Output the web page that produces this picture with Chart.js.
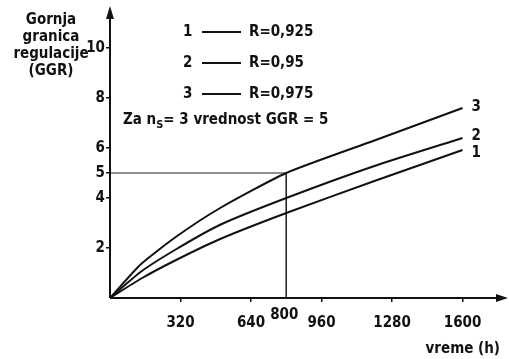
<!DOCTYPE html>
<html>
<head>
<meta charset="utf-8">
<script src="https://cdn.jsdelivr.net/npm/chart.js@4"></script>
<style>
  body { margin: 0; background: #fff; }
  canvas { display: block; }
</style>
</head>
<body>
<canvas id="ggrChart" width="509" height="359"></canvas>
<script>
// data
const hours = [0, 140, 300, 500, 800, 1200, 1600];
const ggrR925 = [0, 0.77, 1.52, 2.36, 3.4, 4.68, 5.92];
const ggrR950 = [0, 1.05, 1.95, 2.93, 4.0, 5.28, 6.4];
const ggrR975 = [0, 1.35, 2.45, 3.6, 5.0, 6.3, 7.6];
const curveNames = ['1', '2', '3'];
const rValues = ['R=0,925', 'R=0,95', 'R=0,975'];
const xTicks = [320, 640, 960, 1280, 1600];
const yTicks = [2, 4, 5, 6, 8, 10];
const guideX = 800;
const guideY = 5;

const FONT = '"DejaVu Sans Condensed", "DejaVu Sans", sans-serif';
const TXT = 'bold 15px ' + FONT;

function pts(vals) {
  return hours.map((h, i) => ({x: h, y: vals[i]}));
}

// extra drawing: axis arrows, labels, legend text
const annotations = {
  id: 'annotations',
  afterDraw(chart) {
    const ctx = chart.ctx;
    const xs = chart.scales.x, ys = chart.scales.y;
    const x0 = xs.getPixelForValue(0), y0 = ys.getPixelForValue(0);
    ctx.save();
    ctx.strokeStyle = '#111';
    ctx.fillStyle = '#111';
    ctx.lineWidth = 2;
    // axes with arrows
    ctx.beginPath();
    ctx.moveTo(x0, y0);
    ctx.lineTo(chart.width - 4, y0);
    ctx.moveTo(x0, y0);
    ctx.lineTo(x0, 12);
    ctx.stroke();
    ctx.beginPath();
    ctx.moveTo(chart.width - 1, y0);
    ctx.lineTo(chart.width - 13, y0 - 4);
    ctx.lineTo(chart.width - 13, y0 + 4);
    ctx.closePath();
    ctx.fill();
    ctx.beginPath();
    ctx.moveTo(x0, 6);
    ctx.lineTo(x0 - 4, 19);
    ctx.lineTo(x0 + 4, 19);
    ctx.closePath();
    ctx.fill();

    // y title
    ctx.font = TXT;
    ctx.textAlign = 'center';
    ctx.textBaseline = 'middle';
    ['Gornja', 'granica', 'regulacije', '(GGR)'].forEach((t, i) => {
      ctx.fillText(t, 51, 20 + i * 17);
    });

    // x title
    ctx.textAlign = 'right';
    ctx.fillText('vreme (h)', 500, 349);

    // 800 label
    ctx.textAlign = 'center';
    ctx.fillText(String(guideX), xs.getPixelForValue(guideX) - 2, 315);

    // legend rows
    ctx.textAlign = 'left';
    ctx.lineWidth = 2;
    rValues.forEach((r, i) => {
      const y = 32 + i * 31;
      ctx.fillText(curveNames[i], 183, y);
      ctx.beginPath();
      ctx.moveTo(202, y);
      ctx.lineTo(241, y);
      ctx.stroke();
      ctx.fillText(r, 249, y);
    });

    // note with subscript
    let x = 123;
    const yn = 120;
    ctx.fillText('Za n', x, yn);
    x += ctx.measureText('Za n').width;
    ctx.font = 'bold 11px ' + FONT;
    ctx.fillText('S', x, yn + 5);
    x += ctx.measureText('S').width;
    ctx.font = TXT;
    ctx.fillText('= 3 vrednost GGR = 5', x, yn);

    // curve end numbers
    const ends = [ggrR925, ggrR950, ggrR975];
    const offs = [3, -2, -1];
    ends.forEach((vals, i) => {
      const last = vals.length - 1;
      ctx.fillText(curveNames[i], xs.getPixelForValue(hours[last]) + 9,
        ys.getPixelForValue(vals[last]) + offs[i]);
    });
    ctx.restore();
  }
};

const lineStyle = {
  borderColor: '#111',
  borderWidth: 2,
  pointRadius: 0,
  fill: false,
  tension: 0.2
};

new Chart(document.getElementById('ggrChart'), {
  type: 'line',
  data: {
    datasets: [
      Object.assign({label: rValues[0], data: pts(ggrR925)}, lineStyle),
      Object.assign({label: rValues[1], data: pts(ggrR950)}, lineStyle),
      Object.assign({label: rValues[2], data: pts(ggrR975)}, lineStyle),
      {
        label: 'guide',
        data: [{x: 0, y: guideY}, {x: guideX, y: guideY}, {x: guideX, y: 0}],
        borderColor: '#222',
        borderWidth: 1,
        pointRadius: 0,
        tension: 0,
        fill: false
      }
    ]
  },
  options: {
    responsive: false,
    animation: false,
    layout: {padding: {left: 0, right: 9, top: 13, bottom: 0}},
    plugins: {legend: {display: false}, tooltip: {enabled: false}},
    scales: {
      x: {
        type: 'linear',
        min: 0,
        max: 1770,
        afterFit(scale) { scale.height = 61; },
        afterBuildTicks(scale) { scale.ticks = xTicks.map(v => ({value: v})); },
        border: {display: false},
        grid: {drawOnChartArea: false, drawTicks: true, tickLength: 4, color: '#111', lineWidth: 1.5},
        ticks: {
          color: '#111', font: {family: FONT, size: 15, weight: 'bold'}, padding: 12, maxRotation: 0,
          callback: v => String(v)
        }
      },
      y: {
        type: 'linear',
        min: 0,
        max: 11.4,
        afterFit(scale) { scale.width = 110; },
        afterBuildTicks(scale) { scale.ticks = yTicks.map(v => ({value: v})); },
        border: {display: false},
        grid: {drawOnChartArea: false, drawTicks: true, tickLength: 4, color: '#111', lineWidth: 1.5},
        ticks: {
          color: '#111', font: {family: FONT, size: 15, weight: 'bold'}, padding: 1,
          callback: v => String(v)
        }
      }
    }
  },
  plugins: [annotations]
});
</script>
</body>
</html>
